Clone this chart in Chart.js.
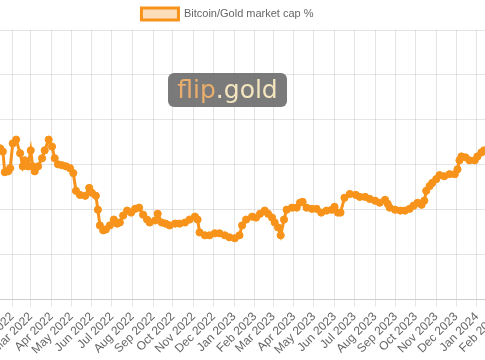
<!DOCTYPE html>
<html>
<head>
<meta charset="utf-8">
<script src="https://cdn.jsdelivr.net/npm/chart.js@4/dist/chart.umd.min.js"></script>
<style>
  html, body { margin: 0; padding: 0; background: #fff; width: 485px; height: 360px; overflow: hidden; }
  #wrap { position: absolute; left: -60px; top: 0; width: 575px; height: 360px; }
  #logo {
    position: absolute; left: 168px; top: 73px; width: 119px; height: 34px;
    background: rgba(108, 108, 108, 0.9); border-radius: 6px;
    font-family: 'DejaVu Sans', sans-serif; font-size: 25px; line-height: 33px; text-align: center;
  }
  #logo .a { color: #e9ad6c; }
  #logo .b { color: #f4e5bf; }
</style>
</head>
<body>
<div id="wrap"><canvas id="chart"></canvas></div>
<div id="logo"><span class="a">flip</span><span class="b">.gold</span></div>
<script>
// --- Data ---
const series_label = 'Bitcoin/Gold market cap %';

const dates = [
  '2022-01-14','2022-01-18','2022-01-21','2022-01-26','2022-01-29','2022-02-02','2022-02-07','2022-02-13',
  '2022-02-17','2022-02-20','2022-02-25','2022-03-01','2022-03-04','2022-03-07','2022-03-12','2022-03-18',
  '2022-03-22','2022-03-28','2022-04-02','2022-04-06','2022-04-11','2022-04-17','2022-04-23','2022-04-29',
  '2022-05-04','2022-05-08','2022-05-14','2022-05-22','2022-05-28','2022-06-01','2022-06-07','2022-06-10',
  '2022-06-13','2022-06-18','2022-06-22','2022-06-28','2022-07-04','2022-07-09','2022-07-13','2022-07-18',
  '2022-07-24','2022-07-30','2022-08-05','2022-08-11','2022-08-17','2022-08-23','2022-08-27','2022-09-04',
  '2022-09-08','2022-09-14','2022-09-20','2022-09-26','2022-10-04','2022-10-11','2022-10-19','2022-10-26',
  '2022-11-03','2022-11-07','2022-11-10','2022-11-18','2022-11-25','2022-12-03','2022-12-10','2022-12-18',
  '2022-12-25','2023-01-02','2023-01-09','2023-01-13','2023-01-19','2023-01-28','2023-02-03','2023-02-09',
  '2023-02-16','2023-02-21','2023-02-27','2023-03-03','2023-03-08','2023-03-12','2023-03-17','2023-03-21',
  '2023-03-29','2023-04-05','2023-04-10','2023-04-14','2023-04-20','2023-04-28','2023-05-05','2023-05-12',
  '2023-05-20','2023-05-28','2023-06-01','2023-06-06','2023-06-10','2023-06-16','2023-06-24','2023-07-03',
  '2023-07-09','2023-07-17','2023-07-24','2023-08-01','2023-08-08','2023-08-16','2023-08-20','2023-08-23',
  '2023-08-31','2023-09-08','2023-09-15','2023-09-22','2023-09-28','2023-10-04','2023-10-10','2023-10-14',
  '2023-10-17','2023-10-22','2023-10-26','2023-11-01','2023-11-06','2023-11-13','2023-11-21','2023-11-29',
  '2023-12-03','2023-12-06','2023-12-09','2023-12-15','2023-12-21','2023-12-29','2024-01-02','2024-01-08',
  '2024-01-12'
];

const ratio_values = [
  6.73, 6.59, 5.67, 5.71, 5.85, 6.95, 7.12, 6.51,
  5.93, 6.20, 5.93, 6.64, 5.93, 5.71, 5.93, 6.29,
  6.64, 7.12, 6.81, 6.29, 6.02, 5.98, 5.93, 5.85,
  5.63, 4.84, 4.66, 4.62, 4.97, 4.75, 4.62, 4.00,
  3.30, 3.08, 3.12, 3.30, 3.56, 3.38, 3.43, 3.74,
  3.96, 3.87, 4.04, 4.09, 3.78, 3.56, 3.43, 3.52,
  3.82, 3.43, 3.38, 3.30, 3.38, 3.38, 3.43, 3.56,
  3.69, 3.56, 2.99, 2.86, 2.86, 2.95, 2.95, 2.86,
  2.77, 2.73, 2.86, 3.30, 3.56, 3.69, 3.65, 3.82,
  3.96, 3.82, 3.65, 3.43, 3.21, 2.86, 3.56, 4.00,
  4.09, 4.09, 4.31, 4.35, 4.09, 4.04, 4.04, 3.87,
  3.96, 4.00, 4.13, 3.87, 3.87, 4.53, 4.70, 4.66,
  4.57, 4.57, 4.48, 4.40, 4.31, 4.44, 4.26, 4.09,
  4.00, 3.96, 3.96, 4.04, 4.18, 4.31, 4.22, 4.40,
  4.84, 5.05, 5.19, 5.36, 5.54, 5.49, 5.58, 5.58,
  5.80, 6.20, 6.37, 6.33, 6.20, 6.20, 6.37, 6.55,
  6.64
];

const tick_labels = [
  'Feb 2022','Mar 2022','Apr 2022','May 2022','Jun 2022','Jul 2022','Aug 2022','Sep 2022','Oct 2022',
  'Nov 2022','Dec 2022','Jan 2023','Feb 2023','Mar 2023','Apr 2023','May 2023','Jun 2023','Jul 2023',
  'Aug 2023','Sep 2023','Oct 2023','Nov 2023','Dec 2023','Jan 2024','Feb 2024'
];

const x_range = ['2021-10-23', '2024-02-20'];
const y_range = [0, 12];

// --- Helpers ---
const MONTHS = ['Jan','Feb','Mar','Apr','May','Jun','Jul','Aug','Sep','Oct','Nov','Dec'];
const to_ms = s => Date.parse(s + 'T00:00:00Z');
const label_to_ms = l => { const [m, y] = l.split(' '); return Date.UTC(+y, MONTHS.indexOf(m), 1); };
const tick_values = tick_labels.map(label_to_ms);

const points = dates.map((d, i) => ({ x: to_ms(d), y: ratio_values[i] }));
const orange = '#f7931a';

new Chart(document.getElementById('chart'), {
  type: 'line',
  data: {
    datasets: [{
      label: series_label,
      data: points,
      borderColor: orange,
      backgroundColor: 'rgba(247,147,26,0.3)',
      borderWidth: 3,
      pointRadius: 3.6,
      pointBorderWidth: 1,
      pointBackgroundColor: orange,
      pointBorderColor: orange,
      tension: 0,
      fill: false
    }]
  },
  options: {
    responsive: true,
    maintainAspectRatio: false,
    animation: false,
    plugins: {
      legend: { labels: { boxWidth: 37, boxHeight: 12, padding: 8, font: { size: 11 } } },
      tooltip: { enabled: false }
    },
    scales: {
      x: {
        type: 'linear',
        min: to_ms(x_range[0]),
        max: to_ms(x_range[1]),
        afterBuildTicks: axis => { axis.ticks = tick_values.map(v => ({ value: v })); },
        grid: { tickLength: 7 },
        ticks: {
          autoSkip: false, minRotation: 45, maxRotation: 45, padding: 3,
          callback: v => tick_labels[tick_values.indexOf(v)] || ''
        }
      },
      y: {
        min: y_range[0], max: y_range[1],
        ticks: { display: false, stepSize: 2 },
        grid: { drawTicks: false },
        border: { display: false }
      }
    }
  }
});
</script>
</body>
</html>
